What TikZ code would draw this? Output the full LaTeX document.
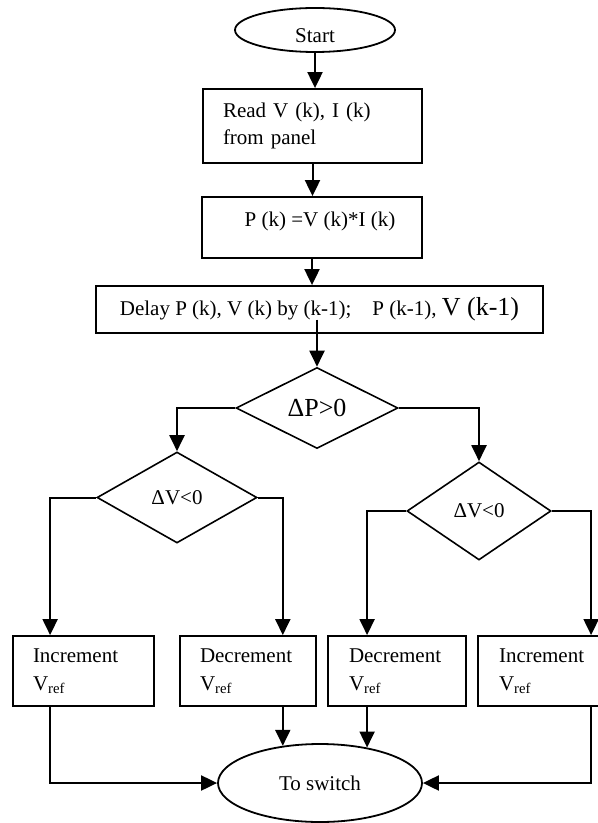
\documentclass[tikz,border=0pt]{standalone}
\usepackage{fontspec}
\setmainfont{Liberation Serif}
\usetikzlibrary{shapes.geometric,arrows.meta,calc}

\begin{document}
\begin{tikzpicture}[x=0.5pt,y=-0.5pt,
        every node/.style={font=\fontsize{10.5}{13.5}\selectfont},
        term/.style={draw,ellipse,line width=0.9pt,inner sep=0pt},
        proc/.style={draw,rectangle,line width=0.9pt,inner sep=0pt},
        vref/.style={proc,minimum height=35pt,align=left,font=\fontsize{10.5}{14}\selectfont},
        test/.style={draw,diamond,line width=0.8pt,inner sep=0pt},
        arr/.style={line width=1pt,-{Triangle[length=8pt,width=7.5pt]}}]
        \useasboundingbox (0,0) rectangle (598,823);

        \node [term, minimum width=80pt, minimum height=22pt, text height=13pt] (start) at (315,30) {Start};

        \node [proc, minimum width=109.5pt, minimum height=37pt, text width=89.5pt, align=left] (read) at (312.5,126) {Read V (k), I (k)\\from panel};

        \node [proc, minimum width=110pt, minimum height=30.5pt, text depth=8pt] (power) at (312,227.5) {\hspace{8pt}P (k) =V (k)*I (k)};

        \node [proc, minimum width=223.5pt, minimum height=23.5pt] (delay) at (319.5,309.5) {Delay P (k), V (k) by (k-1);\hspace{1em}P (k-1), {\fontsize{13}{15}\selectfont V (k-1)}};

        \node [test, minimum width=81pt, minimum height=40.5pt, font=\fontsize{13}{15}\selectfont] (dP) at (317,408) {ΔP>0};

        \node [test, minimum width=80pt, minimum height=45.5pt] (dVl) at (177,497.5) {ΔV<0};
        \node [test, minimum width=72pt, minimum height=49pt] (dVr) at (479,511) {ΔV<0};

        \node [vref, minimum width=70.5pt, text width=50.5pt] (inc1) at (83.5,671) {Increment\\V\textsubscript{ref}};
        \node [vref, minimum width=68pt, text width=48pt] (dec1) at (248,671) {Decrement\\V\textsubscript{ref}};
        \node [vref, minimum width=69pt, text width=48pt] (dec2) at (397,671) {Decrement\\V\textsubscript{ref}};
        \node [vref, minimum width=70pt, text width=49pt] (inc2) at (548,671) {Increment\\V\textsubscript{ref}};

        \node [term, minimum width=102pt, minimum height=39pt] (sw) at (320,783) {To switch};

        \draw [arr] (start.south) -- (start.south |- read.north);
        \draw [arr] (read.south) -- (read.south |- power.north);
        \draw [arr] (power.south) -- (power.south |- delay.north);
        \draw [arr] ($(dP.north |- delay.center)+(0,10)$) -- (dP.north);

        \draw [arr] (dP.west) -| (dVl.north);
        \draw [arr] (dP.east) -| (dVr.north);

        \draw [arr] (dVl.west) -| ([xshift=19pt]inc1.north west);
        \draw [arr] (dVl.east) -| (sw.135 |- dec1.north);
        \draw [arr] (dVr.west) -| (sw.37 |- dec2.north);
        \draw [arr] (dVr.east) -| ([xshift=57pt]inc2.north west);

        % outputs go back to the switch
        \draw [arr] ([xshift=19pt]inc1.south west) |- (sw.west);
        \draw [arr] (sw.135 |- dec1.south) -- (sw.135);
        \draw [arr] (sw.37 |- dec2.south) -- (sw.37);
        \draw [arr] ([xshift=57pt]inc2.south west) |- (sw.east);

    \end{tikzpicture}
\end{document}
